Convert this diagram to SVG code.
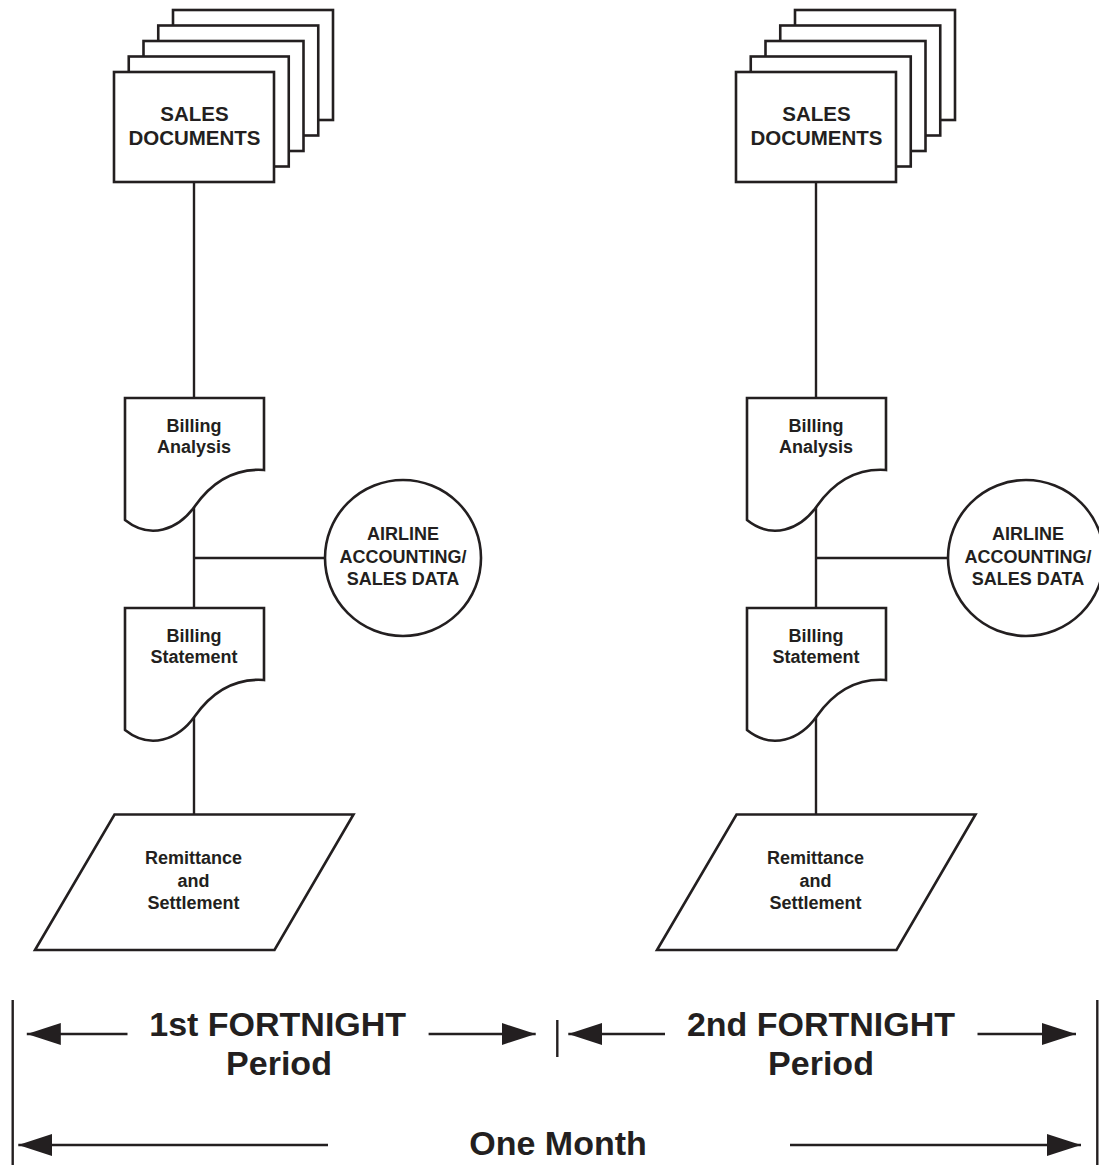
<svg xmlns="http://www.w3.org/2000/svg" width="1099" height="1165" viewBox="0 0 1099 1165">
<defs>
<style>
.s{fill:#fff;stroke:#231f20;stroke-width:2.6}
.c{fill:none;stroke:#231f20;stroke-width:2.4}
.t{font-family:"Liberation Sans",Arial,sans-serif;font-weight:bold;fill:#231f20;text-anchor:middle}
.f20{font-size:20.5px}
.f18{font-size:18px}
.f34{font-size:34px}
</style>
<marker id="ah" viewBox="0 0 34 22" refX="34" refY="11" markerWidth="34" markerHeight="22" markerUnits="userSpaceOnUse" orient="auto">
<path d="M0,0 L34,11 L0,22 Z" fill="#231f20"/>
</marker>
<g id="stack">
<rect class="s" x="59" y="-62" width="160" height="110"/>
<rect class="s" x="44.25" y="-46.5" width="160" height="110"/>
<rect class="s" x="29.5" y="-31" width="160" height="110"/>
<rect class="s" x="14.75" y="-15.5" width="160" height="110"/>
<rect class="s" x="0" y="0" width="160" height="110"/>
</g>
<path id="docshape" class="s" d="M0,0 H139 V72 C110,70 87,84 70,108 C53,132 25,142 0,122 Z"/>
</defs>

<g id="connectors">
<line class="c" x1="194" y1="182" x2="194" y2="398"/>
<line class="c" x1="194" y1="506" x2="194" y2="608"/>
<line class="c" x1="194" y1="558" x2="325" y2="558"/>
<line class="c" x1="194" y1="716" x2="194" y2="815"/>
<line class="c" x1="816" y1="182" x2="816" y2="398"/>
<line class="c" x1="816" y1="506" x2="816" y2="608"/>
<line class="c" x1="816" y1="558" x2="948" y2="558"/>
<line class="c" x1="816" y1="716" x2="816" y2="815"/>
</g>

<g id="sales-docs-1">
<use href="#stack" x="114" y="72"/>
<text class="t f20" x="194.5" y="121">SALES</text>
<text class="t f20" x="194.5" y="144.5">DOCUMENTS</text>
</g>
<g id="billing-analysis-1">
<use href="#docshape" x="125" y="398"/>
<text class="t f18" x="194" y="432">Billing</text>
<text class="t f18" x="194" y="453">Analysis</text>
</g>
<g id="airline-data-1">
<circle class="s" cx="403" cy="558" r="78"/>
<text class="t f18" x="403" y="540">AIRLINE</text>
<text class="t f18" x="403" y="562.5">ACCOUNTING/</text>
<text class="t f18" x="403" y="584.5">SALES DATA</text>
</g>
<g id="billing-statement-1">
<use href="#docshape" x="125" y="608"/>
<text class="t f18" x="194" y="642">Billing</text>
<text class="t f18" x="194" y="663">Statement</text>
</g>
<g id="remittance-1">
<polygon class="s" points="114.5,814.5 353.5,814.5 274.5,950 35,950"/>
<text class="t f18" x="193.5" y="864">Remittance</text>
<text class="t f18" x="193.5" y="886.5">and</text>
<text class="t f18" x="193.5" y="909">Settlement</text>
</g>

<g id="sales-docs-2">
<use href="#stack" x="736" y="72"/>
<text class="t f20" x="816.5" y="121">SALES</text>
<text class="t f20" x="816.5" y="144.5">DOCUMENTS</text>
</g>
<g id="billing-analysis-2">
<use href="#docshape" x="747" y="398"/>
<text class="t f18" x="816" y="432">Billing</text>
<text class="t f18" x="816" y="453">Analysis</text>
</g>
<g id="airline-data-2">
<circle class="s" cx="1026" cy="558" r="78"/>
<text class="t f18" x="1028" y="540">AIRLINE</text>
<text class="t f18" x="1028" y="562.5">ACCOUNTING/</text>
<text class="t f18" x="1028" y="584.5">SALES DATA</text>
</g>
<g id="billing-statement-2">
<use href="#docshape" x="747" y="608"/>
<text class="t f18" x="816" y="642">Billing</text>
<text class="t f18" x="816" y="663">Statement</text>
</g>
<g id="remittance-2">
<polygon class="s" points="736.5,814.5 975.5,814.5 896.5,950 657,950"/>
<text class="t f18" x="815.5" y="864">Remittance</text>
<text class="t f18" x="815.5" y="886.5">and</text>
<text class="t f18" x="815.5" y="909">Settlement</text>
</g>

<g id="timeline">
<line class="c" x1="12.7" y1="1000" x2="12.7" y2="1165"/>
<line class="c" x1="1097.3" y1="1000" x2="1097.3" y2="1165"/>
<line class="c" x1="557.3" y1="1020" x2="557.3" y2="1057"/>
<line class="c" x1="127.5" y1="1034" x2="26.8" y2="1034" marker-end="url(#ah)"/>
<line class="c" x1="428.6" y1="1034" x2="535.7" y2="1034" marker-end="url(#ah)"/>
<line class="c" x1="665" y1="1034" x2="568.3" y2="1034" marker-end="url(#ah)"/>
<line class="c" x1="977.5" y1="1034" x2="1076" y2="1034" marker-end="url(#ah)"/>
<line class="c" x1="328" y1="1145" x2="18.3" y2="1145" marker-end="url(#ah)"/>
<line class="c" x1="790" y1="1145" x2="1081" y2="1145" marker-end="url(#ah)"/>
<text class="t f34" x="277.7" y="1036">1st FORTNIGHT</text>
<text class="t f34" x="279" y="1075">Period</text>
<text class="t f34" x="821" y="1036">2nd FORTNIGHT</text>
<text class="t f34" x="821" y="1075">Period</text>
<text class="t f34" x="558" y="1155">One Month</text>
</g>
</svg>
